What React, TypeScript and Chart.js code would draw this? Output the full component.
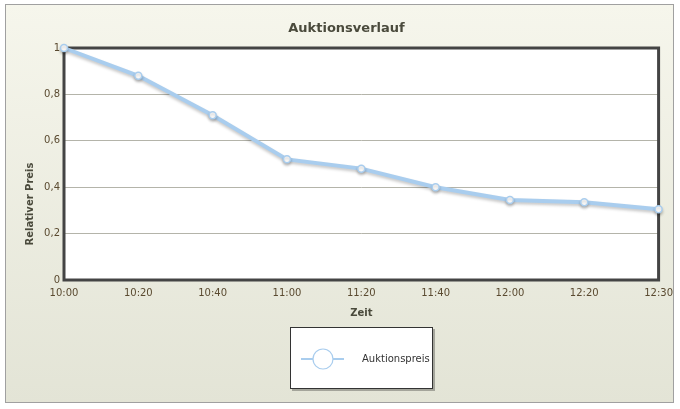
import React, { useEffect, useRef } from "react";
import { Chart, registerables, Plugin } from "chart.js";

Chart.register(...registerables);

// data
const times = ["10:00", "10:20", "10:40", "11:00", "11:20", "11:40", "12:00", "12:20", "12:30"];
const prices = [1.0, 0.88, 0.71, 0.52, 0.48, 0.4, 0.345, 0.335, 0.305];
const yTicks = [0, 0.2, 0.4, 0.6, 0.8, 1];

const FONT = "'DejaVu Sans', Verdana, sans-serif";
const LINE_BLUE = "#a9cdee";
const TITLE_COLOR = "#4a4a3c";
const TICK_COLOR = "#5a4a30";

// frame, white plot area, y title and legend box
const decorPlugin: Plugin<"line"> = {
  id: "decor",
  beforeDraw(chart) {
    const { ctx, chartArea, width, height } = chart;
    ctx.save();
    ctx.fillStyle = "#ffffff";
    ctx.fillRect(0, 0, width, height);
    const grad = ctx.createLinearGradient(0, 4, 0, 403);
    grad.addColorStop(0, "#f6f6ec");
    grad.addColorStop(1, "#e3e4d6");
    ctx.fillStyle = grad;
    ctx.fillRect(5.5, 4.5, 668, 398);
    ctx.strokeStyle = "#a0a0a0";
    ctx.lineWidth = 1;
    ctx.strokeRect(5.5, 4.5, 668, 398);
    ctx.fillStyle = "#ffffff";
    ctx.fillRect(chartArea.left, chartArea.top, chartArea.right - chartArea.left, chartArea.bottom - chartArea.top);

    // y axis title, centred on the whole chart height
    ctx.translate(30, 204);
    ctx.rotate(-Math.PI / 2);
    ctx.font = `bold 10px ${FONT}`;
    ctx.fillStyle = TITLE_COLOR;
    ctx.textAlign = "center";
    ctx.textBaseline = "middle";
    ctx.fillText("Relativer Preis", 0, 0);
    ctx.restore();
  },
  beforeDatasetsDraw(chart) {
    const { ctx, chartArea } = chart;
    ctx.save();
    ctx.strokeStyle = "#444444";
    ctx.lineWidth = 3;
    ctx.strokeRect(chartArea.left, chartArea.top, chartArea.right - chartArea.left, chartArea.bottom - chartArea.top);
    ctx.restore();
  },
  beforeDatasetDraw(chart) {
    const ctx = chart.ctx;
    ctx.save();
    ctx.shadowColor = "rgba(0,0,0,0.22)";
    ctx.shadowOffsetX = 0;
    ctx.shadowOffsetY = 2;
    ctx.shadowBlur = 3;
  },
  afterDatasetDraw(chart) {
    chart.ctx.restore();
  },
  afterDraw(chart) {
    const ctx = chart.ctx;
    const label = chart.data.datasets[0].label || "";
    ctx.save();
    // legend box with shadow
    ctx.fillStyle = "rgba(0,0,0,0.28)";
    ctx.fillRect(292, 329, 143, 62);
    ctx.fillStyle = "#ffffff";
    ctx.fillRect(290.5, 327.5, 142, 61);
    ctx.strokeStyle = "#333333";
    ctx.lineWidth = 1;
    ctx.strokeRect(290.5, 327.5, 142, 61);
    ctx.strokeStyle = LINE_BLUE;
    ctx.lineWidth = 2;
    ctx.beginPath();
    ctx.moveTo(301, 359);
    ctx.lineTo(344, 359);
    ctx.stroke();
    ctx.beginPath();
    ctx.arc(323, 359, 10, 0, Math.PI * 2);
    ctx.fillStyle = "#ffffff";
    ctx.fill();
    ctx.lineWidth = 1.2;
    ctx.stroke();
    ctx.font = `10px ${FONT}`;
    ctx.fillStyle = "#333333";
    ctx.textAlign = "left";
    ctx.textBaseline = "middle";
    ctx.fillText(label, 362, 359);
    ctx.restore();
  },
};

const App: React.FC = () => {
  const canvasRef = useRef<HTMLCanvasElement | null>(null);
  const chartRef = useRef<Chart | null>(null);

  useEffect(() => {
    document.body.style.margin = "0";
    const canvas = canvasRef.current;
    if (!canvas) return;
    if (chartRef.current) chartRef.current.destroy();

    chartRef.current = new Chart(canvas, {
      type: "line",
      data: {
        labels: times,
        datasets: [
          {
            label: "Auktionspreis",
            data: prices,
            borderColor: LINE_BLUE,
            borderWidth: 4,
            tension: 0,
            pointRadius: 3.5,
            pointBackgroundColor: "#ffffff",
            pointBorderColor: LINE_BLUE,
            pointBorderWidth: 1.5,
            clip: false,
          },
        ],
      },
      options: {
        animation: false,
        responsive: false,
        devicePixelRatio: 1,
        layout: { padding: { top: 0, left: 34, right: 21, bottom: 89 } },
        plugins: {
          legend: { display: false },
          tooltip: { enabled: false },
          title: {
            display: true,
            text: "Auktionsverlauf",
            color: TITLE_COLOR,
            font: { family: FONT, size: 13, weight: "bold" },
            padding: { top: 21, bottom: 11.4 },
          },
        },
        scales: {
          x: {
            type: "category",
            offset: false,
            grid: { display: false, drawTicks: false },
            border: { display: false },
            ticks: {
              color: TICK_COLOR,
              font: { family: FONT, size: 10 },
              padding: 7,
              autoSkip: false,
              maxRotation: 0,
            },
            title: {
              display: true,
              text: "Zeit",
              color: TITLE_COLOR,
              font: { family: FONT, size: 10, weight: "bold" },
              padding: { top: 0, bottom: 1 },
            },
            afterFit: (scale) => {
              scale.height = 40;
            },
          },
          y: {
            min: 0,
            max: 1,
            afterBuildTicks: (scale) => {
              scale.ticks = yTicks.map((v) => ({ value: v }));
            },
            grid: { color: "#b4b4aa", lineWidth: 1, drawTicks: false },
            border: { display: false },
            ticks: {
              color: TICK_COLOR,
              font: { family: FONT, size: 10 },
              padding: 4,
              callback: (v) => String(Math.round(Number(v) * 10) / 10).replace(".", ","),
            },
            afterFit: (scale) => {
              scale.width = 30;
            },
          },
        },
      },
      plugins: [decorPlugin],
    });

    return () => {
      if (chartRef.current) {
        chartRef.current.destroy();
        chartRef.current = null;
      }
    };
  }, []);

  return (
    <div style={{ width: 680, height: 409, position: "relative" }}>
      <canvas ref={canvasRef} width={680} height={409} />
    </div>
  );
};

export default App;
